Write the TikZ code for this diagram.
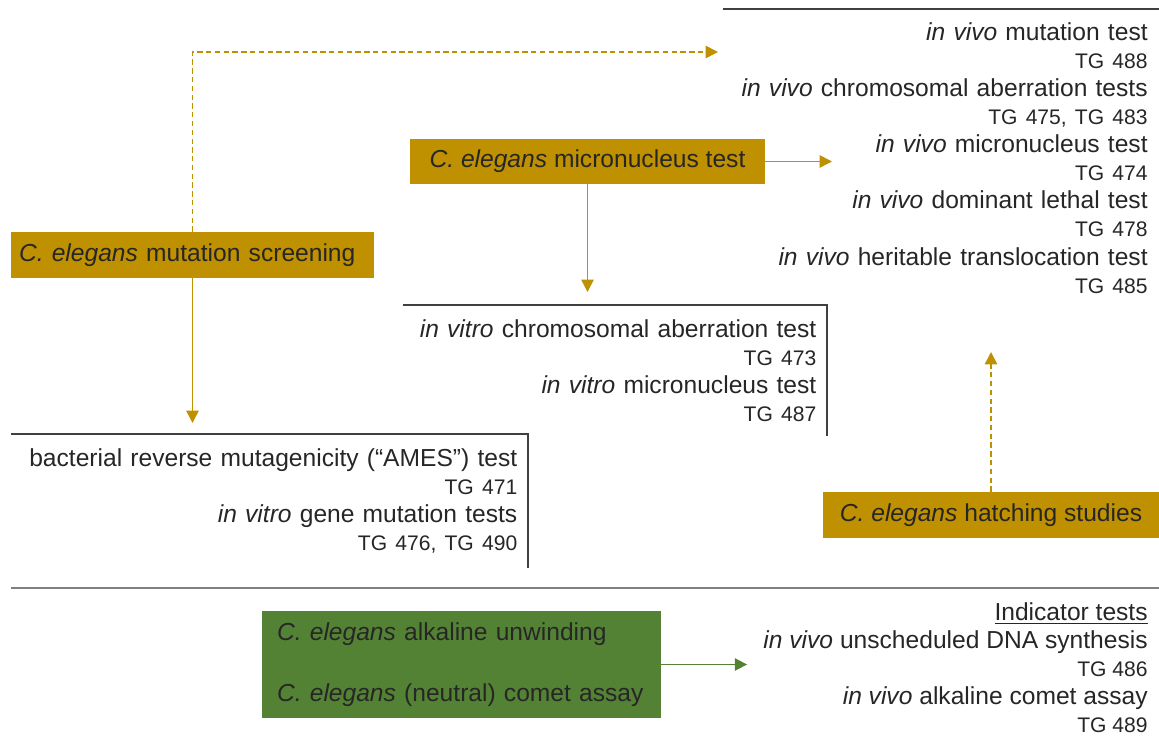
\documentclass[tikz,border=0pt]{standalone}
\usepackage{fontspec}
\setmainfont{Liberation Sans}
\usetikzlibrary{arrows.meta}
\definecolor{gold}{RGB}{191,144,0}
\definecolor{leaf}{RGB}{84,130,53}
\definecolor{rulegray}{RGB}{64,64,64}

\begin{document}
\begin{tikzpicture}[x=0.02cm, y=-0.02cm, % one unit is one pixel of the sketch
    font=\fontsize{14}{16}\selectfont,
    text=black!85,
    tip/.style={-{Triangle[width=7pt,length=7pt]}, line width=0.9pt},
    dashy/.style={dash pattern=on 3pt off 2pt},
    goldbox/.style={fill=gold, minimum height=0.92cm, inner ysep=0pt},
    listbox/.style={align=right, inner xsep=0.2cm, inner ysep=0.28cm},
    frame/.style={rulegray, line width=1.1pt},
    ]
\def\cel{\textit{C. elegans}} % the worm
\def\viv{\textit{in vivo}}
\def\vit{\textit{in vitro}}
\def\tg#1{{\fontsize{12}{16}\selectfont TG #1}} % guideline number

\useasboundingbox (0,0) rectangle (1159,742);

% worm assays
\node[goldbox, text width=6.94cm, align=left, inner xsep=0.16cm] (sc) at (192.5,255) {\cel{} mutation screening};
\node[goldbox, minimum width=7.1cm, minimum height=0.9cm] (mn) at (587.5,161.5) {\cel{} micronucleus test};
\node[goldbox, minimum width=6.72cm] (ht) at (991,515) {\cel{} hatching studies};
\node[fill=leaf, minimum height=2.14cm, text width=7.38cm, align=left, inner xsep=0.3cm] (ga) at (461.5,664.5)
    {\cel{} alkaline unwinding\\[19pt] \cel{} (neutral) comet assay};

% guideline tests
\node[listbox, anchor=north east, text width=8.26cm, inner xsep=0.22cm, inner ysep=0.26cm] (vivo) at (1159,9) {%
    \viv{} mutation test\\ \tg{488}\\
    \viv{} chromosomal aberration tests\\ \tg{475, TG 483}\\
    \viv{} micronucleus test\\ \tg{474}\\
    \viv{} dominant lethal test\\ \tg{478}\\
    \viv{} heritable translocation test\\ \tg{485}};
\node[listbox, anchor=north west, text width=8.06cm] (vitro) at (403,305) {%
    \vit{} chromosomal aberration test\\ \tg{473}\\
    \vit{} micronucleus test\\ \tg{487}};
\node[listbox, anchor=north west, text width=9.92cm] (ames) at (11,434) {%
    bacterial reverse mutagenicity (“AMES”) test\\ \tg{471}\\
    \vit{} gene mutation tests\\ \tg{476, TG 490}};
\node[listbox, anchor=north east, inner xsep=0.22cm, inner ysep=0.1cm] (ind) at (1159,597) {%
    \underline{Indicator tests}\\
    \viv{} unscheduled DNA synthesis\\ \tg{486}\\
    \viv{} alkaline comet assay\\ \tg{489}};

\draw[frame] (vivo.north west) -- (vivo.north east);
\draw[frame] (vitro.north west) -- (vitro.north east) -- (vitro.south east);
\draw[frame] (ames.north west) -- (ames.north east) -- (ames.south east);
\draw[gray, line width=1.6pt] (11,588) -- (1159,588); % divider

% free arrow ends
\coordinate (mutend) at (718,52);
\coordinate (mnend) at (832,161.5);
\coordinate (htend) at (991,352);

\draw[tip, gold, dashy] (sc.north) |- (mutend);
\draw[tip, gold, shorten >=0.22cm] (sc.south) -- (sc.south |- ames.north);
\draw[tip, gold] (mn.east) -- (mnend);
\draw[tip, gold, shorten >=0.26cm] (mn.south) -- (mn.south |- vitro.north);
\draw[tip, gold, dashy] (ht.north) -- (htend);
\draw[tip, leaf, shorten >=0.1cm] (ga.east) -- (ind.west |- ga.east);

\end{tikzpicture}
\end{document}
